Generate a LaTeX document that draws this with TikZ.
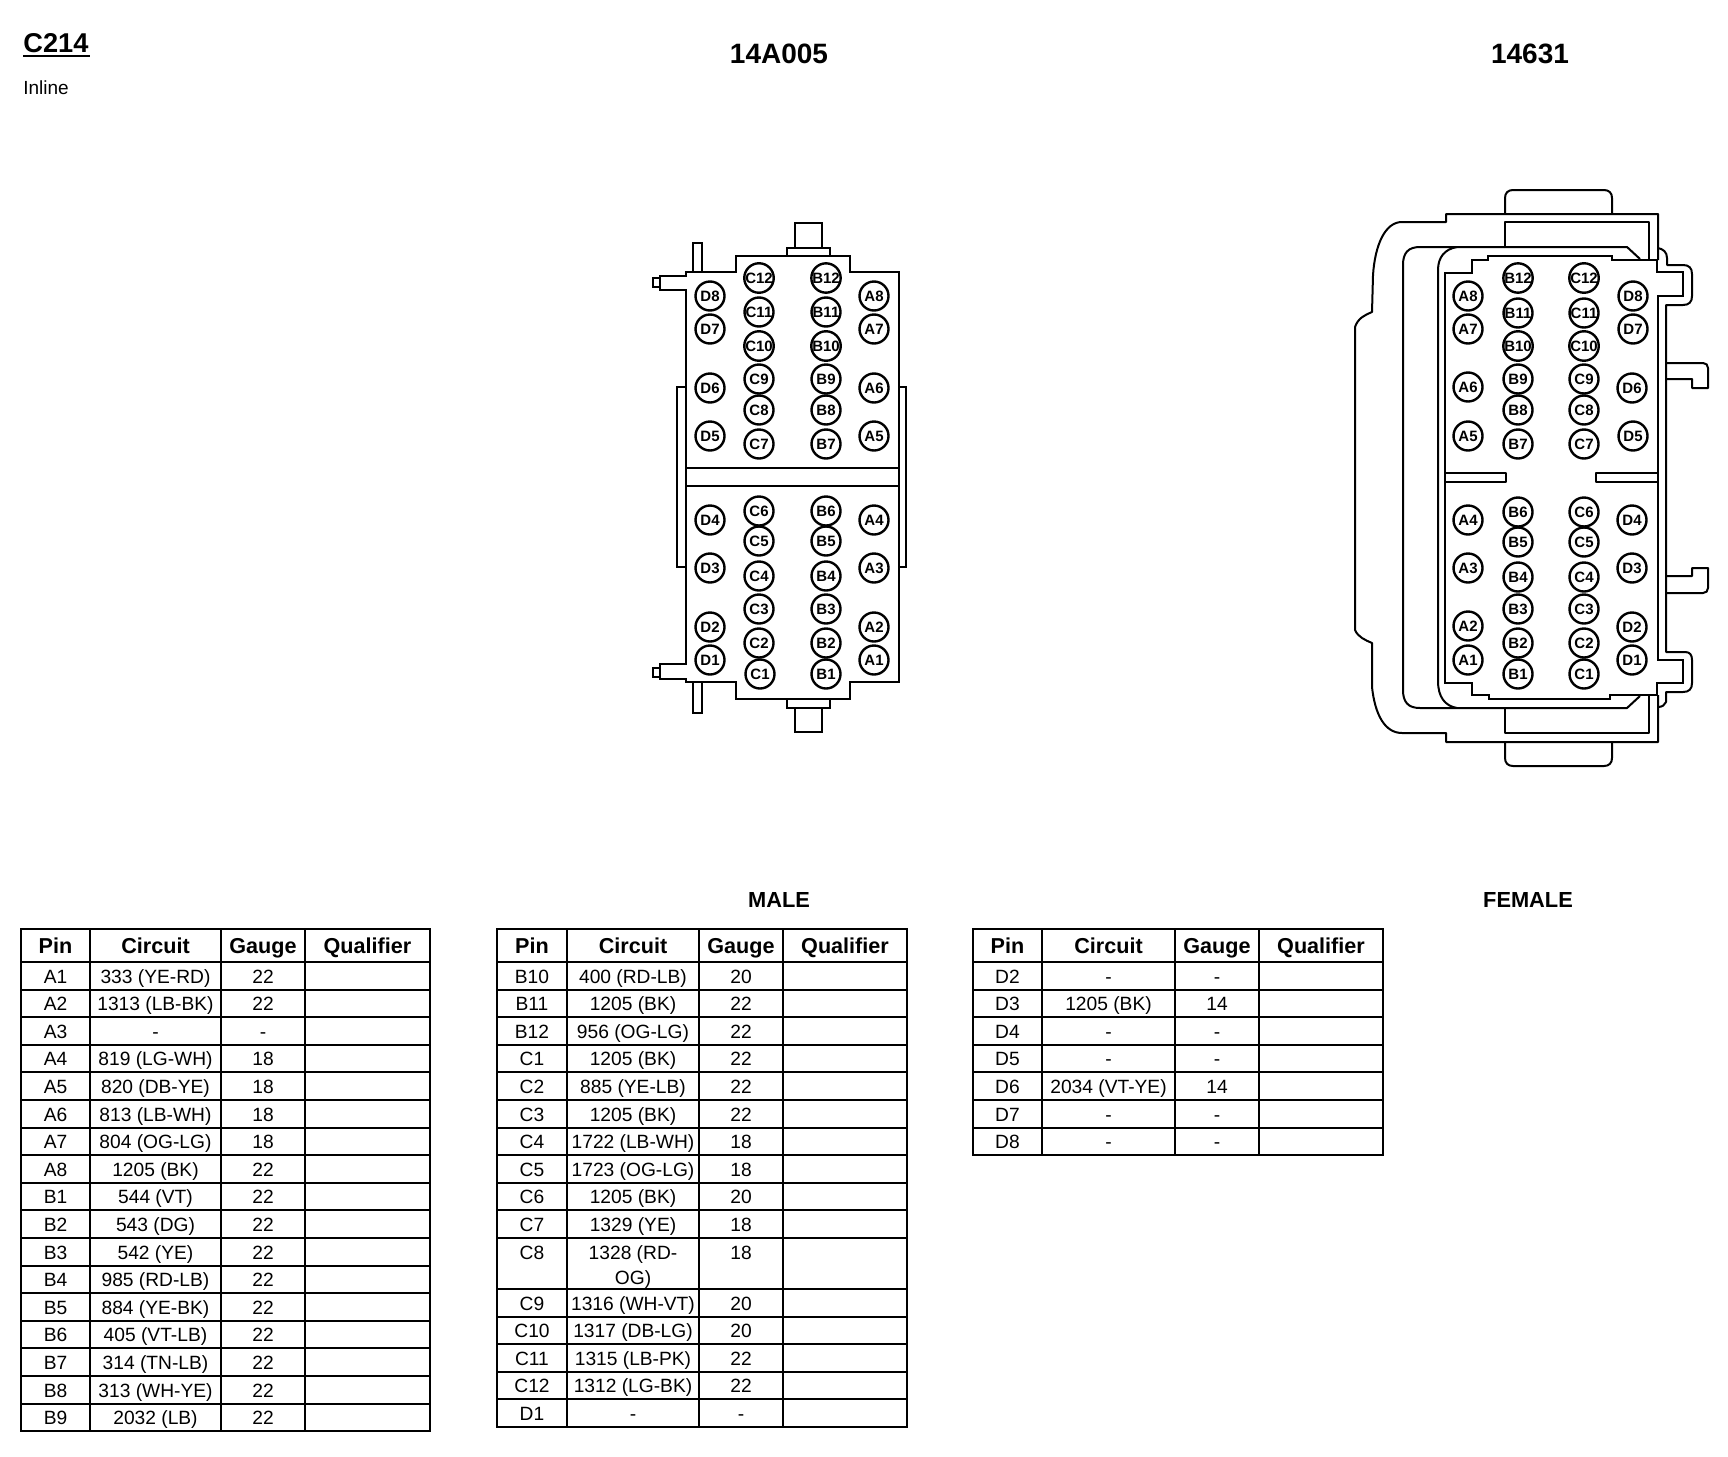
\documentclass[tikz,border=0pt]{standalone}
\usepackage{fontspec}
\setmainfont{Liberation Sans}
\tikzset{
  hull/.style={line width=1.25pt,line join=miter,line cap=rect},
  shell/.style={line width=1pt,line join=round},
  rule/.style={line width=0.95pt},
  pincirc/.style={circle,draw,line width=1.2pt,minimum size=14.5pt,inner sep=0pt,font=\fontsize{7.5}{8}\selectfont\bfseries},
  cell/.style={anchor=base,inner sep=0pt,font=\fontsize{9.6}{11}\selectfont},
  headcell/.style={anchor=base,inner sep=0pt,font=\fontsize{10.8}{12}\selectfont\bfseries},
  titletext/.style={inner sep=0pt,font=\fontsize{14}{16}\selectfont\bfseries},
  gendertext/.style={inner sep=0pt,font=\fontsize{10.9}{12}\selectfont\bfseries}
}
% #1 table id, #2 x0, #3 x1, #4 x2, #5 x3, #6 x4, #7 bottom y
\newcommand{\tabframe}[7]{%
  \draw[rule] (#2,929) rectangle (#6,#7);
  \draw[rule] (#3,929) -- (#3,#7) (#4,929) -- (#4,#7) (#5,929) -- (#5,#7);
  \draw[rule] (#2,962) -- (#6,962);
  \node[headcell] (#1-hp) at ({(#2+#3)/2},953) {Pin};
  \node[headcell] (#1-hc) at ({(#3+#4)/2},953) {Circuit};
  \node[headcell] (#1-hg) at ({(#4+#5)/2},953) {Gauge};
  \node[headcell] (#1-hq) at ({(#5+#6)/2},953) {Qualifier};
}
\begin{document}
\begin{tikzpicture}[x=0.5pt,y=-0.5pt]
\useasboundingbox (0,0) rectangle (1728,1456);

% ---- titles
\node[anchor=base west,inner sep=0pt,font=\fontsize{13.6}{15}\selectfont\bfseries] (ctitle) at (23,52) {C214};
\draw[line width=0.9pt] (23,56) -- (90,56);
\node[anchor=base west,inner sep=0pt,font=\fontsize{9.5}{11}\selectfont] (inl) at (23,94) {Inline};
\node[titletext] (pa) at (779,54) {14A005};
\node[titletext] (pb) at (1530,54) {14631};
\node[gendertext] (gm) at (779,900) {MALE};
\node[gendertext] (gf) at (1528,900) {FEMALE};

% ---- male connector
\draw[hull] (686,272) -- (736,272) -- (736,256) -- (850,256) -- (850,272) -- (899,272)
  -- (899,682) -- (850,682) -- (850,699) -- (736,699) -- (736,682) -- (686,682) -- (686,679)
  -- (660,679) -- (660,664) -- (686,664) -- (686,290) -- (660,290) -- (660,276) -- (686,276) -- cycle;
\draw[line width=0.8pt] (653,278) rectangle (660,287);
\draw[line width=0.8pt] (653,668) rectangle (660,677);
\draw[hull] (693,272) -- (693,243) -- (702,243) -- (702,272);
\draw[hull] (693,682) -- (693,713) -- (702,713) -- (702,682);
\draw[hull] (787,256) -- (787,248) -- (830,248) -- (830,256);
\draw[hull] (795,248) -- (795,223) -- (822,223) -- (822,248);
\draw[hull] (787,699) -- (787,708) -- (830,708) -- (830,699);
\draw[hull] (795,708) -- (795,732) -- (822,732) -- (822,708);
\draw[hull] (686,387) -- (677,387) -- (677,567) -- (686,567);
\draw[hull] (899,387) -- (906,387) -- (906,567) -- (899,567);
\draw[hull] (686,468) -- (899,468) (686,486) -- (899,486);

\foreach \n/\x/\y in {D8/710/296,D7/710/329,D6/710/388,D5/710/436,D4/710/520,D3/710/568,D2/710/627,D1/710/660,
  C12/759/278,C11/759/312,C10/759/346,C9/759/379,C8/759/410,C7/759/444,C6/759/511,C5/759/541,C4/759/576,C3/759/609,C2/759/643,C1/760/674,
  B12/826/278,B11/826/312,B10/826/346,B9/826/379,B8/826/410,B7/826/444,B6/826/511,B5/826/541,B4/826/576,B3/826/609,B2/826/643,B1/826/674,
  A8/874/296,A7/874/329,A6/874/388,A5/874/436,A4/874/520,A3/874/568,A2/874/627,A1/874/660}
  \node[pincirc] (m-\n) at (\x,\y) {\n};

% ---- female connector: outer shell
\draw[shell] (1658,260) -- (1658,214) -- (1446,214) -- (1446,222) -- (1402,222)
  .. controls (1385,222) and (1375,245) .. (1373,275) -- (1372,312)
  .. controls (1365,315) and (1358,318) .. (1355,327) -- (1355,630)
  .. controls (1358,637) and (1365,640) .. (1372,643) -- (1372,687)
  .. controls (1375,715) and (1385,733) .. (1402,733) -- (1446,733) -- (1446,742) -- (1658,742) -- (1658,695);
% top and bottom tabs
\draw[shell] (1505,214) -- (1505,198) .. controls (1505,193) and (1508,190) .. (1513,190) -- (1604,190)
  .. controls (1609,190) and (1612,193) .. (1612,198) -- (1612,214);
\draw[shell] (1505,742) -- (1505,758) .. controls (1505,763) and (1508,766) .. (1513,766) -- (1604,766)
  .. controls (1609,766) and (1612,763) .. (1612,758) -- (1612,742);
% inner rectangles
\draw[shell] (1505,248) -- (1505,222) -- (1649,222) -- (1649,260);
\draw[shell] (1505,708) -- (1505,733) -- (1649,733) -- (1649,695);
% middle shell
\draw[shell] (1640,259) -- (1627,247) -- (1420,247) .. controls (1408,247) and (1403,253) .. (1403,265)
  -- (1403,690) .. controls (1403,702) and (1408,708) .. (1420,708) -- (1627,708) -- (1640,696);
% inner shell
\draw[shell] (1457,247) .. controls (1445,249) and (1438,257) .. (1438,270) -- (1438,681)
  .. controls (1438,697) and (1445,706) .. (1457,708);
% contact face
\draw[hull] (1445,273) -- (1472,273) -- (1472,260) -- (1488,260) -- (1488,256) -- (1612,256) -- (1612,260) -- (1657,260)
  -- (1657,272) -- (1683,272) -- (1683,296) -- (1658,296) -- (1658,660) -- (1683,660) -- (1683,683)
  -- (1657,683) -- (1657,695) -- (1610,695) -- (1610,699) -- (1489,699) -- (1489,695) -- (1472,695) -- (1472,683) -- (1445,683) -- cycle;
% right-hand outer lines
\draw[shell] (1658,248) .. controls (1663,249) and (1667,252) .. (1667,258) -- (1667,265) -- (1683,265)
  .. controls (1689,265) and (1692,268) .. (1692,274) -- (1692,296)
  .. controls (1692,302) and (1689,305) .. (1683,305) -- (1666,305) -- (1666,652) -- (1685,652)
  .. controls (1690,652) and (1692,655) .. (1692,660) -- (1692,683)
  .. controls (1692,689) and (1689,692) .. (1683,692) -- (1666,692) -- (1666,702)
  .. controls (1665,705) and (1662,707) .. (1658,707);
% clips
\draw[shell] (1666,363) -- (1703,363) .. controls (1706,363) and (1708,365) .. (1708,368) -- (1708,388)
  -- (1692,388) -- (1692,379) -- (1666,379);
\draw[shell] (1666,576) -- (1692,576) -- (1692,568) -- (1708,568) -- (1708,588)
  .. controls (1708,591) and (1706,593) .. (1703,593) -- (1666,593);
% bars
\draw[shell] (1445,473) -- (1506,473) -- (1506,482) -- (1445,482);
\draw[shell] (1657,473) -- (1596,473) -- (1596,482) -- (1657,482);

\foreach \n/\x/\y in {A8/1468/296,A7/1468/329,A6/1468/387,A5/1468/436,A4/1468/520,A3/1468/568,A2/1468/626,A1/1468/660,
  B12/1518/278,B11/1518/313,B10/1518/346,B9/1518/379,B8/1518/410,B7/1518/444,B6/1518/512,B5/1518/542,B4/1518/577,B3/1518/609,B2/1518/643,B1/1518/674,
  C12/1584/278,C11/1584/313,C10/1584/346,C9/1584/379,C8/1584/410,C7/1584/444,C6/1584/512,C5/1584/542,C4/1584/577,C3/1584/609,C2/1584/643,C1/1584/674,
  D8/1633/296,D7/1633/329,D6/1632/388,D5/1633/436,D4/1632/520,D3/1632/568,D2/1632/627,D1/1632/660}
  \node[pincirc] (f-\n) at (\x,\y) {\n};

% ---- table 1
\tabframe{ta}{21}{90}{221}{305}{430}{1431.2}
\foreach \p/\c/\g [count=\i from 0] in {A1/333 (YE-RD)/22,A2/1313 (LB-BK)/22,A3/-/-,A4/819 (LG-WH)/18,A5/820 (DB-YE)/18,A6/813 (LB-WH)/18,A7/804 (OG-LG)/18,A8/1205 (BK)/22,B1/544 (VT)/22,B2/543 (DG)/22,B3/542 (YE)/22,B4/985 (RD-LB)/22,B5/884 (YE-BK)/22,B6/405 (VT-LB)/22,B7/314 (TN-LB)/22,B8/313 (WH-YE)/22,B9/2032 (LB)/22}{
  \pgfmathsetmacro{\yb}{962+\i*27.6+21}
  \node[cell] (ta-\p-p) at (55.5,\yb) {\p};
  \node[cell] (ta-\p-c) at (155.5,\yb) {\c};
  \node[cell] (ta-\p-g) at (263,\yb) {\g};
  \draw[rule] (21,962+\i*27.6+27.6) -- (430,962+\i*27.6+27.6);
}

% ---- table 2
\tabframe{tb}{497}{567}{699}{783}{907}{1427}
\foreach \p/\c/\g [count=\i from 0] in {B10/400 (RD-LB)/20,B11/1205 (BK)/22,B12/956 (OG-LG)/22,C1/1205 (BK)/22,C2/885 (YE-LB)/22,C3/1205 (BK)/22,C4/1722 (LB-WH)/18,C5/1723 (OG-LG)/18,C6/1205 (BK)/20,C7/1329 (YE)/18}{
  \pgfmathsetmacro{\yb}{962+\i*27.6+21}
  \node[cell] (tb-\p-p) at (532,\yb) {\p};
  \node[cell] (tb-\p-c) at (633,\yb) {\c};
  \node[cell] (tb-\p-g) at (741,\yb) {\g};
  \draw[rule] (497,962+\i*27.6+27.6) -- (907,962+\i*27.6+27.6);
}
\node[cell] (tb-C8-p) at (532,1259) {C8};
\node[cell] (tb-C8-c1) at (633,1259) {1328 (RD-};
\node[cell] (tb-C8-c2) at (633,1284) {OG)};
\node[cell] (tb-C8-g) at (741,1259) {18};
\draw[rule] (497,1289.2) -- (907,1289.2);
\foreach \p/\c/\g [count=\i from 0] in {C9/1316 (WH-VT)/20,C10/1317 (DB-LG)/20,C11/1315 (LB-PK)/22,C12/1312 (LG-BK)/22,D1/-/-}{
  \pgfmathsetmacro{\yb}{1289.2+\i*27.55+21}
  \node[cell] (tb-\p-p) at (532,\yb) {\p};
  \node[cell] (tb-\p-c) at (633,\yb) {\c};
  \node[cell] (tb-\p-g) at (741,\yb) {\g};
  \draw[rule] (497,1289.2+\i*27.55+27.55) -- (907,1289.2+\i*27.55+27.55);
}

% ---- table 3
\tabframe{tc}{973}{1042}{1175}{1259}{1383}{1155.2}
\foreach \p/\c/\g [count=\i from 0] in {D2/-/-,D3/1205 (BK)/14,D4/-/-,D5/-/-,D6/2034 (VT-YE)/14,D7/-/-,D8/-/-}{
  \pgfmathsetmacro{\yb}{962+\i*27.6+21}
  \node[cell] (tc-\p-p) at (1007.5,\yb) {\p};
  \node[cell] (tc-\p-c) at (1108.5,\yb) {\c};
  \node[cell] (tc-\p-g) at (1217,\yb) {\g};
  \draw[rule] (973,962+\i*27.6+27.6) -- (1383,962+\i*27.6+27.6);
}
\end{tikzpicture}
\end{document}
